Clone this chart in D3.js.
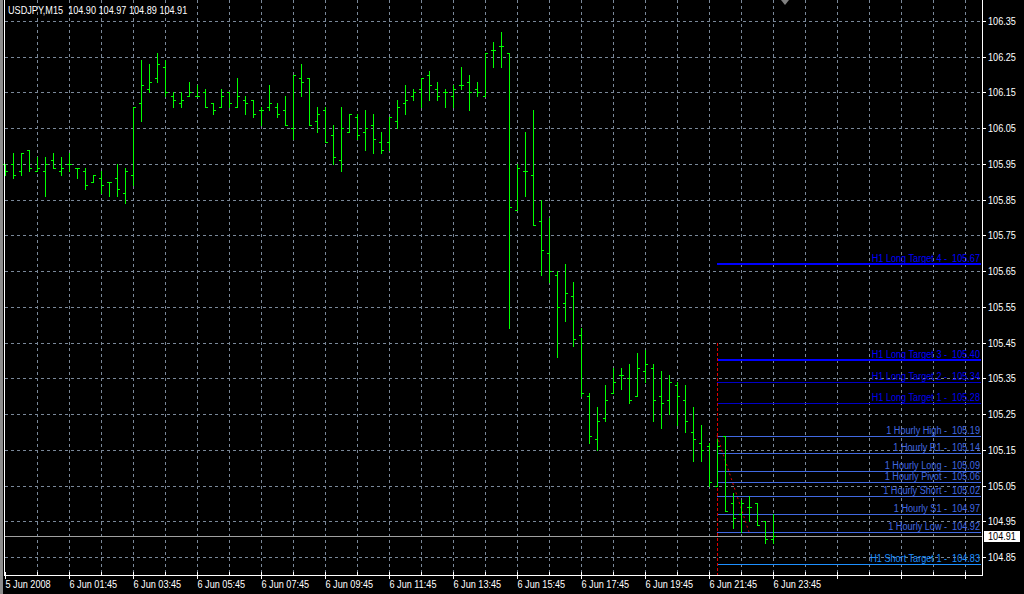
<!DOCTYPE html>
<html><head><meta charset="utf-8">
<script src="https://cdn.jsdelivr.net/npm/d3@7"></script>
<style>
html,body{margin:0;padding:0;background:#000;}
svg{display:block;}
text{font-family:"Liberation Sans",Arial,sans-serif;}
</style></head><body>
<svg id="chart" width="1024" height="594"></svg>
<script>
// USDJPY M15 bars, 5 Jun 23:45 .. 6 Jun 23:45
const symbol = "USDJPY,M15";
const opens = [105.95,105.95,105.93,105.99,105.93,105.93,105.96,105.93,105.95,105.94,
  105.93,105.90,105.91,105.90,105.91,105.87,105.92,106.12,106.16,106.19,
  106.22,106.14,106.12,106.14,106.14,106.15,106.12,106.11,106.15,106.11,
  106.13,106.13,106.10,106.11,106.11,106.10,106.05,106.19,106.19,106.07,
  106.10,106.03,105.96,106.04,106.08,106.04,106.06,106.01,106.01,106.07,
  106.12,106.14,106.16,106.20,106.16,106.15,106.14,106.17,106.18,106.16,
  106.14,106.27,106.28,106.26,105.82,105.93,105.92,105.79,105.70,105.64,
  105.56,105.58,105.47,105.30,105.18,105.24,105.31,105.36,105.35,105.30,
  105.37,105.38,105.30,105.29,105.33,105.29,105.20,105.17,105.16,105.05,
  105.19,105.00,104.97,104.99,105.00,104.95,104.90];
const highs = [105.95,105.98,105.98,105.99,105.97,105.97,105.98,105.97,105.98,105.94,
  105.94,105.92,105.93,105.90,105.95,105.94,106.11,106.24,106.23,106.26,
  106.24,106.15,106.15,106.18,106.17,106.16,106.12,106.16,106.15,106.19,
  106.14,106.13,106.11,106.17,106.12,106.14,106.20,106.23,106.19,106.11,
  106.11,106.06,106.11,106.09,106.09,106.10,106.09,106.04,106.08,106.13,
  106.17,106.16,106.19,106.21,106.18,106.16,106.17,106.22,106.20,106.18,
  106.26,106.29,106.32,106.26,105.95,106.04,106.10,105.85,105.80,105.65,
  105.67,105.62,105.49,105.31,105.27,105.33,105.38,105.38,105.39,105.42,
  105.43,105.39,105.37,105.36,105.34,105.33,105.27,105.22,105.17,105.18,
  105.19,105.03,105.01,105.02,105.00,104.95,104.97];
const lows = [105.92,105.91,105.92,105.93,105.93,105.86,105.94,105.92,105.93,105.91,
  105.88,105.90,105.87,105.86,105.86,105.84,105.89,106.07,106.15,106.18,
  106.14,106.11,106.11,106.14,106.14,106.11,106.09,106.11,106.11,106.11,
  106.09,106.08,106.06,106.10,106.08,106.06,106.02,106.14,106.06,106.04,
  106.01,105.95,105.93,106.04,106.02,105.99,105.98,105.98,105.99,106.05,
  106.09,106.13,106.11,106.13,106.13,106.11,106.11,106.16,106.10,106.14,
  106.14,106.22,106.22,105.49,105.82,105.86,105.78,105.64,105.62,105.41,
  105.51,105.44,105.30,105.17,105.15,105.23,105.31,105.32,105.28,105.30,
  105.34,105.23,105.21,105.25,105.22,105.20,105.12,105.12,105.05,105.05,
  104.98,104.93,104.92,104.95,104.94,104.89,104.89];
const closes = [105.93,105.92,105.98,105.94,105.94,105.95,105.94,105.94,105.95,105.94,
  105.89,105.92,105.89,105.90,105.88,105.93,106.11,106.17,106.18,106.23,
  106.15,106.13,106.13,106.15,106.14,106.11,106.10,106.14,106.12,106.14,
  106.12,106.09,106.10,106.12,106.09,106.06,106.20,106.18,106.06,106.09,
  106.01,105.97,106.05,106.09,106.03,106.05,106.02,105.99,106.08,106.11,
  106.13,106.15,106.19,106.17,106.14,106.15,106.16,106.17,106.15,106.15,
  106.26,106.27,106.28,105.83,105.94,105.93,105.78,105.71,105.65,105.55,
  105.59,105.46,105.31,105.19,105.23,105.29,105.34,105.36,105.29,105.38,
  105.39,105.29,105.28,105.34,105.30,105.23,105.18,105.15,105.06,105.16,
  104.98,104.96,105.00,104.99,104.94,104.90,104.91];

// price axis ticks
const priceTicks = [106.35,106.25,106.15,106.05,105.95,105.85,105.75,105.65,
  105.55,105.45,105.35,105.25,105.15,105.05,104.95,104.85];
// time axis: bar index of each label
const timeTickBars = [0,8,16,24,32,40,48,56,64,72,80,88,96];
const timeTickLabels = ["5 Jun 2008","6 Jun 01:45","6 Jun 03:45","6 Jun 05:45","6 Jun 07:45",
  "6 Jun 09:45","6 Jun 11:45","6 Jun 13:45","6 Jun 15:45","6 Jun 17:45","6 Jun 19:45",
  "6 Jun 21:45","6 Jun 23:45"];

// pivot / target levels drawn from the last hour
const levelNames = ["H1 Long Target 4","H1 Long Target 3","H1 Long Target 2","H1 Long Target 1",
  "1 Hourly High","1 Hourly R1","1 Hourly Long","1 Hourly Pivot","1 Hourly Short",
  "1 Hourly S1","1 Hourly Low","H1 Short Target 1"];
const levelValues = [105.67,105.40,105.34,105.28,105.19,105.14,105.09,105.06,105.02,104.97,104.92,104.83];
const levelStartBar = 89;

// red marker line and drop trendline
const markerBar = 89;
const markerTop = 105.45;
const trendBars = [89, 93];
const trendPrices = [105.19, 104.92];

const bid = 104.91;

const svg = d3.select("#chart");
const W = 1024, H = 594;
const plotLeft = 4, plotRight = 982, plotBottom = 575;
const FS = 11;      // font size
const K = 0.83;     // horizontal squeeze for the narrow terminal font

// place a text element at (tx, ty) with the narrow squeeze applied
const squeeze = (sel, tx, ty) => sel
  .attr("transform", (d, i) => `translate(${typeof tx === "function" ? tx(d, i) : tx},${typeof ty === "function" ? ty(d, i) : ty}) scale(${K},1)`)
  .attr("x", 0).attr("y", 0).attr("font-size", FS);

svg.append("rect").attr("width", W).attr("height", H).attr("fill", "#000");
// window frame strip
svg.append("rect").attr("x", 0).attr("y", 0).attr("width", 3).attr("height", H).attr("fill", "#8c8c8c");

const x = d3.scaleLinear().domain([0, 122]).range([5, 981]);
const y = d3.scaleLinear().domain([104.85, 106.35]).range([557, 21]);
const px = v => Math.round(v) + 0.5;

const gridColor = "#7a8899";
const grid = svg.append("g").attr("shape-rendering", "crispEdges");
// horizontal grid
grid.selectAll("line.h").data(priceTicks).join("line")
  .attr("x1", plotLeft + 1).attr("x2", plotRight)
  .attr("y1", d => px(y(d))).attr("y2", d => px(y(d)))
  .attr("stroke", gridColor).attr("stroke-dasharray", "3,3");
// vertical grid every hour (4 bars)
const hourBars = d3.range(4, 121, 4);
grid.selectAll("line.v").data(hourBars).join("line")
  .attr("x1", d => px(x(d))).attr("x2", d => px(x(d)))
  .attr("y1", 0).attr("y2", plotBottom)
  .attr("stroke", gridColor).attr("stroke-dasharray", "3,3");

// bid line
svg.append("line").attr("shape-rendering", "crispEdges")
  .attr("x1", plotLeft + 1).attr("x2", plotRight)
  .attr("y1", px(y(bid))).attr("y2", px(y(bid)))
  .attr("stroke", "#a0a0a0");

// level lines + labels
function levelStyle(name) {
  if (/Long Target [34]/.test(name)) return {line: "#0000ff", text: "#0000ff", w: 2};
  if (/Long Target/.test(name)) return {line: "#0000c8", text: "#0000f0", w: 1};
  if (/Short Target/.test(name)) return {line: "#1e90ff", text: "#1e90ff", w: 1};
  return {line: "#4169e1", text: "#4169e1", w: 1};
}
const levels = levelNames.map((n, i) => ({name: n, value: levelValues[i], st: levelStyle(n)}));
const lv = svg.append("g");
lv.selectAll("line").data(levels).join("line")
  .attr("shape-rendering", "crispEdges")
  .attr("x1", x(levelStartBar)).attr("x2", plotRight - 1)
  .attr("y1", d => d.st.w === 2 ? Math.round(y(d.value)) : px(y(d.value)))
  .attr("y2", d => d.st.w === 2 ? Math.round(y(d.value)) : px(y(d.value)))
  .attr("stroke", d => d.st.line).attr("stroke-width", d => d.st.w);
lv.selectAll("text").data(levels).join("text")
  .call(squeeze, plotRight - 2, d => Math.round(y(d.value)) - 2)
  .attr("text-anchor", "end")
  .style("white-space", "pre")
  .attr("fill", d => d.st.text)
  .text(d => d.name + " -  " + d.value.toFixed(2));

// red dashed vertical marker
svg.append("line").attr("shape-rendering", "crispEdges")
  .attr("x1", px(x(markerBar))).attr("x2", px(x(markerBar)))
  .attr("y1", y(markerTop)).attr("y2", plotBottom)
  .attr("stroke", "#e00000").attr("stroke-dasharray", "3,2");
// red dotted trendline
svg.append("line")
  .attr("x1", x(trendBars[0])).attr("x2", x(trendBars[1]))
  .attr("y1", y(trendPrices[0])).attr("y2", y(trendPrices[1]))
  .attr("stroke", "#e00000").attr("stroke-dasharray", "2,3");

// OHLC bars
const bars = d3.range(opens.length).map(i => ({i, o: opens[i], h: highs[i], l: lows[i], c: closes[i]}));
const bg = svg.append("g").attr("fill", "#00ff00").attr("shape-rendering", "crispEdges");
bg.selectAll("rect.hl").data(bars).join("rect")
  .attr("x", d => Math.round(x(d.i))).attr("y", d => Math.round(y(d.h)))
  .attr("width", 1).attr("height", d => Math.round(y(d.l)) - Math.round(y(d.h)) + 1);
bg.selectAll("rect.o").data(bars).join("rect")
  .attr("x", d => Math.round(x(d.i)) - 2).attr("y", d => Math.round(y(d.o)))
  .attr("width", 2).attr("height", 1);
bg.selectAll("rect.c").data(bars).join("rect")
  .attr("x", d => Math.round(x(d.i)) + 1).attr("y", d => Math.round(y(d.c)))
  .attr("width", 2).attr("height", 1);

// frame
const frame = svg.append("g").attr("stroke", "#fff").attr("shape-rendering", "crispEdges");
frame.append("line").attr("x1", plotLeft + 0.5).attr("x2", plotLeft + 0.5).attr("y1", 0).attr("y2", plotBottom);
frame.append("line").attr("x1", plotRight + 0.5).attr("x2", plotRight + 0.5).attr("y1", 0).attr("y2", plotBottom + 1);
frame.append("line").attr("x1", plotLeft).attr("x2", plotRight + 1).attr("y1", plotBottom + 0.5).attr("y2", plotBottom + 0.5);

// price axis
const yAxis = d3.axisRight(y).tickValues(priceTicks).tickFormat(d3.format(".2f"))
  .tickSize(3).tickPadding(3).tickSizeOuter(0);
const ya = svg.append("g").attr("transform", `translate(${plotRight + 0.5},0)`).call(yAxis);
ya.select(".domain").remove();
ya.selectAll(".tick line").attr("stroke", "#fff").attr("shape-rendering", "crispEdges");
ya.selectAll(".tick").attr("transform", d => `translate(0,${px(y(d))})`);
ya.selectAll(".tick text").call(squeeze, 5.5, 0).attr("dy", "0.35em").attr("fill", "#fff");

// current bid box
const bidY = Math.round(y(bid));
svg.append("rect").attr("x", 984).attr("y", bidY - 5).attr("width", 36).attr("height", 11).attr("fill", "#fff");
svg.append("text").call(squeeze, 988, bidY + 4).attr("fill", "#000").text(bid.toFixed(2));

// time axis
const xa = svg.append("g").attr("shape-rendering", "crispEdges");
xa.selectAll("line.minor").data(d3.range(4, 121, 8)).join("line")
  .attr("x1", d => px(x(d))).attr("x2", d => px(x(d)))
  .attr("y1", plotBottom - 3).attr("y2", plotBottom).attr("stroke", "#fff");
xa.selectAll("line.major").data(d3.range(0, 121, 8)).join("line")
  .attr("x1", d => px(x(d))).attr("x2", d => px(x(d)))
  .attr("y1", plotBottom - 3).attr("y2", plotBottom + 4).attr("stroke", "#fff");
const xAxis = d3.axisBottom(x).tickValues(timeTickBars)
  .tickFormat((d, i) => timeTickLabels[i]).tickSize(0).tickPadding(0);
const xg = svg.append("g").attr("transform", `translate(0,${plotBottom})`).call(xAxis);
xg.select(".domain").remove();
xg.selectAll(".tick text").call(squeeze, 0, 13).attr("dy", 0)
  .attr("fill", "#fff").attr("text-anchor", "start");

// chart-shift marker
svg.append("path").attr("d", "M781,0 L789,0 L785,5 Z").attr("fill", "#808080");

// header
svg.append("text").call(squeeze, 8, 14).attr("fill", "#fff")
  .style("white-space", "pre")
  .text(`${symbol}  ${opens[96].toFixed(2)} ${highs[96].toFixed(2)} ${lows[96].toFixed(2)} ${closes[96].toFixed(2)}`);
</script>
</body></html>
